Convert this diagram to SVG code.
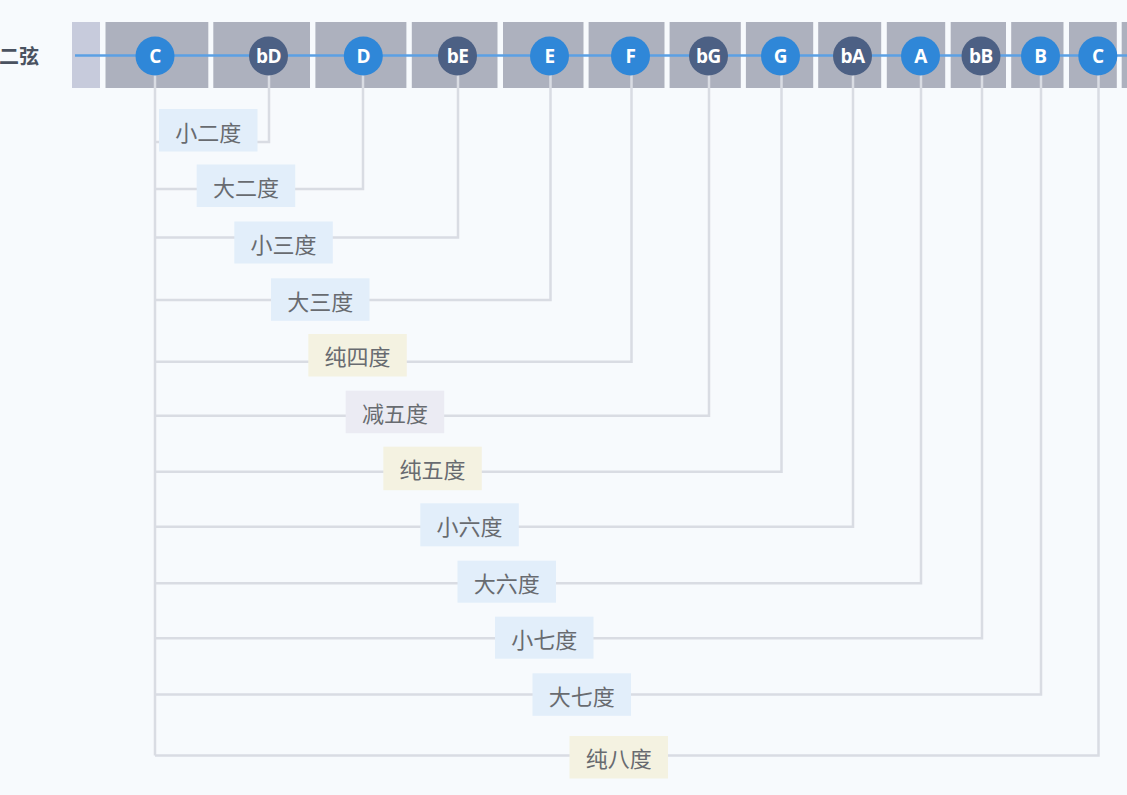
<svg xmlns="http://www.w3.org/2000/svg" width="1127" height="795" viewBox="0 0 1127 795">
<style>
.cell{fill:#adb1be}
.nut{fill:#c7cbdc}
.str{stroke:#5ba0e4;stroke-width:2.5;fill:none}
.nat{fill:#2f87d8}
.flat{fill:#4c6084}
.nl{font-family:"Open Sans","Noto Sans",sans-serif;font-weight:bold;font-size:19px;fill:#ffffff;text-anchor:middle;dominant-baseline:central;letter-spacing:-0.5px}
.con{stroke:#d9dce3;stroke-width:2.5;fill:none}
.lb{font-family:"Noto Sans CJK SC","Noto Sans",sans-serif;font-size:22px;fill:#686b70;text-anchor:middle;dominant-baseline:central}
.bl{fill:#e2eefa}
.yl{fill:#f4f2e1}
.pl{fill:#ebebf3}
</style>
<rect width="1127" height="795" fill="#f7fafd"/>
<text x="39" y="55" font-family="Noto Sans CJK SC,sans-serif" font-size="20" font-weight="bold" fill="#4a5260" text-anchor="end" dominant-baseline="central">二弦</text>
<g id="fretboard">
<rect class="nut" x="72" y="22" width="28" height="66"/>
<rect class="cell" x="105.5" y="22" width="102.8" height="66"/>
<rect class="cell" x="213.3" y="22" width="96.7" height="66"/>
<rect class="cell" x="315.4" y="22" width="91" height="66"/>
<rect class="cell" x="411.8" y="22" width="85.7" height="66"/>
<rect class="cell" x="503" y="22" width="80.5" height="66"/>
<rect class="cell" x="588.6" y="22" width="75.9" height="66"/>
<rect class="cell" x="669.6" y="22" width="71.2" height="66"/>
<rect class="cell" x="745.9" y="22" width="67.3" height="66"/>
<rect class="cell" x="818.2" y="22" width="63" height="66"/>
<rect class="cell" x="886.8" y="22" width="58.4" height="66"/>
<rect class="cell" x="950.7" y="22" width="55.3" height="66"/>
<rect class="cell" x="1011.2" y="22" width="52.3" height="66"/>
<rect class="cell" x="1069" y="22" width="47.8" height="66"/>
<rect class="cell" x="1121.7" y="22" width="10" height="66"/>
</g>
<g id="connectors">
<path class="con" d="M155 60 V755.5"/>
<path class="con" d="M155 142 H269 V60"/>
<path class="con" d="M155 189 H363 V60"/>
<path class="con" d="M155 237.5 H458 V60"/>
<path class="con" d="M155 300 H550.5 V60"/>
<path class="con" d="M155 361.7 H631.5 V60"/>
<path class="con" d="M155 415.7 H709 V60"/>
<path class="con" d="M155 471.7 H781.5 V60"/>
<path class="con" d="M155 526.7 H853 V60"/>
<path class="con" d="M155 583.3 H921 V60"/>
<path class="con" d="M155 638.3 H982 V60"/>
<path class="con" d="M155 694.5 H1041 V60"/>
<path class="con" d="M155 755.5 H1098.5 V60"/>
</g>
<path class="str" d="M75 55.5 H1127"/>
<g id="n-C1"><circle class="nat" cx="155" cy="56" r="19.5"/><text class="nl" x="155" y="56">C</text></g>
<g id="n-bD"><circle class="flat" cx="268.5" cy="56" r="19.5"/><text class="nl" x="268.5" y="56">bD</text></g>
<g id="n-D"><circle class="nat" cx="363.3" cy="56" r="19.5"/><text class="nl" x="363.3" y="56">D</text></g>
<g id="n-bE"><circle class="flat" cx="457.5" cy="56" r="19.5"/><text class="nl" x="457.5" y="56">bE</text></g>
<g id="n-E"><circle class="nat" cx="549.5" cy="56" r="19.5"/><text class="nl" x="549.5" y="56">E</text></g>
<g id="n-F"><circle class="nat" cx="630.5" cy="56" r="19.5"/><text class="nl" x="630.5" y="56">F</text></g>
<g id="n-bG"><circle class="flat" cx="708.5" cy="56" r="19.5"/><text class="nl" x="708.5" y="56">bG</text></g>
<g id="n-G"><circle class="nat" cx="780.5" cy="56" r="19.5"/><text class="nl" x="780.5" y="56">G</text></g>
<g id="n-bA"><circle class="flat" cx="852.5" cy="56" r="19.5"/><text class="nl" x="852.5" y="56">bA</text></g>
<g id="n-A"><circle class="nat" cx="920.5" cy="56" r="19.5"/><text class="nl" x="920.5" y="56">A</text></g>
<g id="n-bB"><circle class="flat" cx="981" cy="56" r="19.5"/><text class="nl" x="981" y="56">bB</text></g>
<g id="n-B"><circle class="nat" cx="1040.5" cy="56" r="19.5"/><text class="nl" x="1040.5" y="56">B</text></g>
<g id="n-C2"><circle class="nat" cx="1097.8" cy="56" r="19.5"/><text class="nl" x="1097.8" y="56">C</text></g>
<g id="l-m2"><rect class="bl" x="159" y="109" width="98.5" height="42.5"/><text class="lb" x="208.2" y="130.5">小二度</text></g>
<g id="l-M2"><rect class="bl" x="196.7" y="164.5" width="98.5" height="42.5"/><text class="lb" x="245.9" y="186">大二度</text></g>
<g id="l-m3"><rect class="bl" x="234.3" y="221.5" width="98.5" height="42"/><text class="lb" x="283.5" y="242.5">小三度</text></g>
<g id="l-M3"><rect class="bl" x="271" y="278.3" width="98.5" height="42.5"/><text class="lb" x="320.2" y="299.5">大三度</text></g>
<g id="l-P4"><rect class="yl" x="308.3" y="334" width="98.5" height="42.5"/><text class="lb" x="357.5" y="355.2">纯四度</text></g>
<g id="l-d5"><rect class="pl" x="345.7" y="390.7" width="98.5" height="42.5"/><text class="lb" x="394.9" y="412">减五度</text></g>
<g id="l-P5"><rect class="yl" x="383.3" y="446.7" width="98.5" height="43.5"/><text class="lb" x="432.5" y="468.4">纯五度</text></g>
<g id="l-m6"><rect class="bl" x="420.3" y="503.3" width="98.5" height="43"/><text class="lb" x="469.5" y="524.8">小六度</text></g>
<g id="l-M6"><rect class="bl" x="457.5" y="560.7" width="98.5" height="42"/><text class="lb" x="506.7" y="581.7">大六度</text></g>
<g id="l-m7"><rect class="bl" x="495" y="616.7" width="98.5" height="42"/><text class="lb" x="544.2" y="637.7">小七度</text></g>
<g id="l-M7"><rect class="bl" x="532.5" y="673.3" width="98.5" height="42.5"/><text class="lb" x="581.7" y="694.5">大七度</text></g>
<g id="l-P8"><rect class="yl" x="569.5" y="736" width="98.5" height="42.5"/><text class="lb" x="618.7" y="757.2">纯八度</text></g>
</svg>
